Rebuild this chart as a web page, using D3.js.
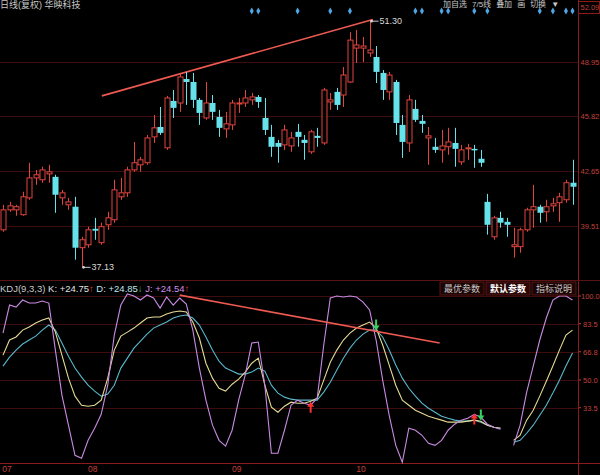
<!DOCTYPE html>
<html><head><meta charset="utf-8">
<script src="https://cdn.jsdelivr.net/npm/d3@7"></script>
<style>body{margin:0;background:#000;overflow:hidden}svg{display:block}</style>
</head><body>
<svg id="c" width="600" height="475"></svg>
<script>
// ---- data ----
const opens = [39.29,40.44,40.44,40.16,41.13,42.28,42.17,42.51,42.34,41.13,
40.73,40.62,38.26,38.43,39.35,38.55,39.58,39.87,41.19,41.42,
42.74,43.03,43.15,44.64,45.21,44.01,46.71,46.59,47.97,47.80,
46.77,45.73,46.59,45.79,45.10,45.33,46.54,46.59,46.77,46.94,
45.73,44.64,44.29,44.18,44.12,44.93,44.47,43.78,44.70,44.29,
46.65,47.23,47.05,47.80,49.75,49.75,49.47,49.24,48.32,47.23,
47.80,45.33,44.29,46.25,45.56,44.58,44.07,43.89,44.07,44.29,
43.20,43.95,43.95,43.38,40.90,38.89,39.98,39.75,38.32,38.32,
39.29,40.44,40.62,40.33,40.67,40.85,41.02,42.00];
const highs = [40.73,40.90,40.73,41.48,43.15,42.74,42.92,43.03,42.46,41.59,
41.13,41.19,38.89,39.47,39.98,39.70,40.33,42.17,42.28,42.92,
44.35,43.49,44.75,45.90,46.36,47.00,47.34,48.26,48.38,48.32,
46.88,47.80,47.05,46.19,46.08,46.77,46.88,47.34,47.17,47.05,
46.88,45.33,44.47,45.33,44.93,45.39,44.75,45.04,45.16,47.46,
47.17,47.46,48.66,50.67,50.79,50.39,51.30,49.87,48.49,48.38,
47.92,45.90,47.05,46.77,45.90,45.21,44.58,45.04,45.16,45.16,
44.18,44.24,44.18,43.89,41.36,40.10,40.33,39.98,39.41,39.41,
40.56,41.88,40.73,41.02,41.13,41.42,42.17,43.32];
const lows = [39.18,40.33,40.10,40.10,41.02,41.88,42.00,42.00,40.27,40.73,
40.44,37.57,37.13,38.26,38.72,38.43,39.29,39.70,41.02,41.19,
42.63,42.63,43.03,44.29,44.75,43.89,45.73,46.08,46.48,46.31,
45.33,45.62,45.62,44.64,44.58,45.04,46.02,46.36,46.48,46.31,
44.75,43.49,43.15,43.89,43.78,44.07,43.32,43.66,44.07,44.18,
46.19,46.19,46.36,47.74,48.89,48.95,49.24,47.74,46.77,46.77,
44.75,43.43,43.78,45.50,44.87,43.03,43.72,43.15,43.61,42.92,
43.03,43.32,42.86,42.92,39.01,38.72,39.41,38.89,37.69,37.97,
39.18,39.41,39.70,39.75,40.33,39.75,40.85,40.73];
const closes = [40.44,40.67,40.62,41.19,42.28,42.46,42.74,42.63,41.31,41.42,
40.90,38.26,38.72,39.29,39.24,39.47,39.98,41.59,41.42,42.74,
43.15,43.32,44.58,45.16,44.87,46.88,46.31,48.09,47.80,46.77,
46.02,46.59,46.08,45.16,45.39,46.59,46.59,46.88,46.94,46.65,
45.04,44.07,44.07,45.04,44.58,44.64,44.29,44.93,44.58,47.34,
46.77,46.48,48.20,50.21,49.93,49.87,49.64,48.38,47.34,48.20,
45.44,44.35,46.77,45.62,45.39,44.70,43.89,44.12,44.35,43.95,
43.89,44.01,43.89,43.15,39.58,39.98,39.70,39.58,38.43,39.29,
40.44,40.62,40.27,40.62,40.79,41.19,42.00,41.77];

const kVals = [64.8,73.8,75.6,79.7,81.5,83.9,85.7,86.9,78.5,64.8,
51.1,40.4,35.0,34.4,35.0,38.0,51.1,67.8,76.1,78.5,
80.9,83.9,86.9,87.5,87.5,89.3,90.5,91.1,90.5,84.5,
75.0,60.0,51.1,45.1,43.4,47.5,50.5,54.7,60.0,63.0,
46.9,33.8,30.8,34.4,36.8,36.2,36.2,37.4,39.2,49.9,
60.6,67.8,73.8,77.9,80.9,82.7,84.5,80.9,70.8,58.9,
46.9,38.0,35.0,32.0,30.2,28.4,27.2,26.1,24.9,24.9,
24.9,25.5,26.1,25.5,23.1,21.9,21.3,null,14.1,17.1,
26.1,32.0,40.4,49.3,58.3,67.8,76.7,79.7];
const dVals = [58.3,63.6,67.8,71.4,73.8,76.1,79.7,82.7,79.7,72.0,
64.2,57.1,51.7,46.9,43.4,40.4,41.6,46.9,57.1,63.0,
69.0,73.2,77.3,80.9,82.7,84.5,86.9,88.1,88.7,86.9,
82.7,75.6,67.8,61.2,57.1,55.3,53.5,53.5,54.7,57.1,
55.3,46.9,42.2,39.8,38.6,38.0,38.0,38.0,38.0,42.8,
48.7,55.9,63.0,69.0,73.8,77.3,79.7,79.7,75.6,67.8,
58.9,51.1,45.1,40.4,36.2,33.2,30.8,28.4,27.2,26.1,
25.5,25.5,26.1,24.9,23.1,21.9,21.3,null,12.9,14.1,
18.3,23.1,29.0,35.0,42.2,49.9,58.3,66.0];
const jVals = [77.9,94.6,93.4,97.6,95.8,95.8,97.0,95.8,67.8,41.0,
23.1,5.2,3.4,14.1,21.3,29.6,46.9,76.7,94.6,101.2,
100.0,97.6,100.6,98.8,92.8,99.4,94.6,98.8,95.2,79.7,
57.1,38.0,23.1,14.1,10.6,20.1,38.0,52.9,72.0,72.6,
46.9,6.4,6.4,20.1,35.0,38.0,36.2,35.0,39.2,70.8,
98.8,100.0,99.4,100.0,99.4,96.4,91.7,73.8,49.9,29.0,
11.1,1.0,21.3,20.1,17.1,12.3,11.1,14.1,20.1,23.7,
26.1,27.2,29.6,27.8,23.7,21.9,20.7,null,11.1,23.1,
42.8,58.3,73.8,86.9,97.6,100.0,100.0,97.6];

const priceTicks = [52.09, 48.95, 45.82, 42.65, 39.51];
const kdjTicks = [100.0, 83.5, 66.8, 50.0, 33.5];
const monthLabels = ["07","08","09","10"];
const monthIdx = [0, 14, 36, 55];
const markerIdx = [38,39,45,50,53,63,64,67,68,72,74,82,84,86,87];
const priceTrendIdx = [15.1, 56.5];
const priceTrendVal = [47.0, 51.40];
const kdjTrendIdx = [27, 66.7];
const kdjTrendVal = [100.5, 72.0];
const signalIdx = [47, 57, 72, 73];
const signalVal = [33.5, 83, 26.5, 29.5];
const signalDir = ["up","down","up","down"];
const highIdx = 56, highText = "51.30";
const lowIdx = 12, lowText = "37.13";
const kdjHeader = [
  {t:"KDJ(9,3,3)", c:"#c8c8c8"}, {t:" K: +24.75", c:"#e0e0e0"}, {t:"↑", c:"#ff3a3a"},
  {t:"  D: +24.85", c:"#bfe6ea"}, {t:"↓", c:"#3ad06a"},
  {t:"  J: +24.54", c:"#d28ee6"}, {t:"↑", c:"#ff3a3a"}];
const buttons = ["最优参数","默认参数","指标说明"];
const menuItems = ["加自选","7/5线","叠加","画","切换","▼"];

// ---- scales ----
const svg = d3.select("#c");
const W = 600, H = 475, axisX = 578;
svg.append("rect").attr("width",W).attr("height",H).attr("fill","#000");
const N = opens.length;
const x = d3.scaleLinear().domain([0, N-1]).range([3, 572.5]);
const y = d3.scaleLinear().domain([39.51, 48.95]).range([226, 62]);
const ky = d3.scaleLinear().domain([0, 100]).range([464, 296]);
const FONT = "'Liberation Sans', Arial, 'Noto Sans CJK SC', sans-serif";
const RED = "#e2443e", CYAN = "#66e2ea", GRID = "#3d0d0d", AXIS = "#8c1c1c";

// gridlines
svg.append("g").selectAll("line").data(priceTicks.slice(1)).join("line")
  .attr("x1",0).attr("x2",axisX).attr("y1",d=>Math.round(y(d))+0.5).attr("y2",d=>Math.round(y(d))+0.5)
  .attr("stroke",GRID).attr("stroke-width",1);
svg.append("g").selectAll("line").data(kdjTicks).join("line")
  .attr("x1",0).attr("x2",axisX).attr("y1",d=>Math.round(ky(d))+0.5).attr("y2",d=>Math.round(ky(d))+0.5)
  .attr("stroke",GRID).attr("stroke-width",1);

// panel frame lines
svg.append("line").attr("x1",axisX+0.5).attr("x2",axisX+0.5).attr("y1",0).attr("y2",H).attr("stroke",AXIS);
svg.append("line").attr("x1",0).attr("x2",W).attr("y1",280.5).attr("y2",280.5).attr("stroke","#5a1414");
svg.append("line").attr("x1",0).attr("x2",W).attr("y1",463.5).attr("y2",463.5).attr("stroke",AXIS);

// price axis labels
svg.append("g").selectAll("text").data(priceTicks).join("text")
  .attr("x",580.5).attr("y",d=>Math.max(10, y(d)+3)).attr("fill","#c0403c").attr("font-size",7.5).attr("font-family",FONT)
  .text(d=>d.toFixed(2));
svg.append("rect").attr("x",578.5).attr("y",1.5).attr("width",21).attr("height",12).attr("fill","none").attr("stroke","#8c1c1c");
// kdj axis labels
const kt = svg.append("g");
kt.selectAll("line").data(kdjTicks).join("line")
  .attr("x1",579).attr("x2",581).attr("y1",d=>ky(d)).attr("y2",d=>ky(d)).attr("stroke","#c0403c");
kt.selectAll("text").data(kdjTicks).join("text")
  .attr("x",d=>d>=100?581:583).attr("y",d=>ky(d)+3).attr("fill","#c0403c").attr("font-size",7.5).attr("font-family",FONT)
  .text(d=>d.toFixed(1));

// month labels
svg.append("g").selectAll("text").data(monthLabels).join("text")
  .attr("x",(d,i)=>Math.max(7, x(monthIdx[i])-2)).attr("y",472).attr("text-anchor","middle")
  .attr("fill","#c0403c").attr("font-size",8.5).attr("font-family",FONT).text(d=>d);

// trend lines
svg.append("line").attr("x1",x(priceTrendIdx[0])).attr("y1",y(priceTrendVal[0]))
  .attr("x2",x(priceTrendIdx[1])).attr("y2",y(priceTrendVal[1])).attr("stroke","#ee5a52").attr("stroke-width",1.6);

// candles
const bw = 5;
const cg = svg.append("g");
for (let i=0;i<N;i++){
  const o=opens[i], c=closes[i], h=highs[i], l=lows[i];
  const cx = Math.round(x(i))+0.5;
  const top = y(Math.max(o,c)), bot = y(Math.min(o,c));
  const up = c>=o;
  const col = up?RED:CYAN;
  if (up){
    cg.append("line").attr("x1",cx).attr("x2",cx).attr("y1",y(h)).attr("y2",top).attr("stroke",col);
    cg.append("line").attr("x1",cx).attr("x2",cx).attr("y1",bot).attr("y2",y(l)).attr("stroke",col);
    cg.append("rect").attr("x",cx-bw/2).attr("y",top).attr("width",bw).attr("height",Math.max(1,bot-top))
      .attr("fill","#000").attr("stroke",col).attr("stroke-width",1);
  } else {
    cg.append("line").attr("x1",cx).attr("x2",cx).attr("y1",y(h)).attr("y2",y(l)).attr("stroke",col);
    cg.append("rect").attr("x",cx-bw/2-0.5).attr("y",top).attr("width",bw+1).attr("height",Math.max(1.5,bot-top))
      .attr("fill",col);
  }
}

// high / low labels
function mark(idx, val, txt){
  const px = x(idx), py = y(val);
  svg.append("circle").attr("cx",px+2).attr("cy",py).attr("r",1.3).attr("fill","#ddd");
  svg.append("line").attr("x1",px+2).attr("x2",px+9).attr("y1",py).attr("y2",py).attr("stroke","#ccc");
  svg.append("text").attr("x",px+10).attr("y",py+3).attr("fill","#d8d8d8").attr("font-size",9)
    .attr("font-family",FONT).text(txt);
}
mark(highIdx, highs[highIdx], highText);
mark(lowIdx, lows[lowIdx], lowText);

// top markers
svg.append("g").selectAll("path").data(markerIdx).join("path")
  .attr("d",d3.symbol().type(d3.symbolDiamond).size(14))
  .attr("transform",d=>`translate(${x(d)},11)`).attr("fill","#4ea6e6");

// header texts
svg.append("text").attr("x",0).attr("y",8).attr("fill","#c8c8c8").attr("font-size",9)
  .attr("font-family",FONT).text("日线(复权)  华映科技");
const mg = svg.append("text").attr("x",443).attr("y",7).attr("fill","#c8c8c8").attr("font-size",8).attr("font-family",FONT);
menuItems.forEach((m,i)=>mg.append("tspan").attr("dx", i?5:0).text(m));

// KDJ lines
const line = d3.line().defined(d=>d!=null).x((d,i)=>x(i)).y(d=>ky(d));
const kdj = svg.append("g").attr("fill","none").attr("stroke-width",1.1);
kdj.append("path").datum(dVals).attr("d",line).attr("stroke","#58b8cc");
kdj.append("path").datum(kVals).attr("d",line).attr("stroke","#e4da94");
kdj.append("path").datum(jVals).attr("d",line).attr("stroke","#c98ae2");

// KDJ trend line
svg.append("line").attr("x1",x(kdjTrendIdx[0])).attr("y1",ky(kdjTrendVal[0]))
  .attr("x2",x(kdjTrendIdx[1])).attr("y2",ky(kdjTrendVal[1])).attr("stroke","#ee5a52").attr("stroke-width",1.6);

// signals
signalIdx.forEach((si,k)=>{
  const px = x(si), py = ky(signalVal[k]);
  const up = signalDir[k]==="up";
  const col = up?"#ff3030":"#38d060";
  const g = svg.append("g").attr("transform",`translate(${px},${py})`);
  if (up){
    g.append("path").attr("d","M0,-6 L-3.5,-1 L-1,-1 L-1,5 L1,5 L1,-1 L3.5,-1 Z").attr("fill",col);
  } else {
    g.append("path").attr("d","M0,6 L-3.5,1 L-1,1 L-1,-5 L1,-5 L1,1 L3.5,1 Z").attr("fill",col);
  }
});

// KDJ header
const ht = svg.append("text").attr("x",0).attr("y",292).attr("font-size",9.5).attr("font-family",FONT);
kdjHeader.forEach(p=>ht.append("tspan").attr("fill",p.c).text(p.t));

// buttons
const bx = [440, 486, 532];
buttons.forEach((b,i)=>{
  svg.append("rect").attr("x",bx[i]).attr("y",282).attr("width",44).attr("height",13)
    .attr("fill", i===1?"#2a0606":"#1c0505").attr("stroke","#5a1414");
  svg.append("text").attr("x",bx[i]+22).attr("y",292).attr("text-anchor","middle")
    .attr("fill", i===1?"#ffffff":"#c8c8c8").attr("font-size",9).attr("font-weight", i===1?"bold":"normal")
    .attr("font-family","'Noto Sans CJK SC', sans-serif").text(b);
});
</script>
</body></html>
